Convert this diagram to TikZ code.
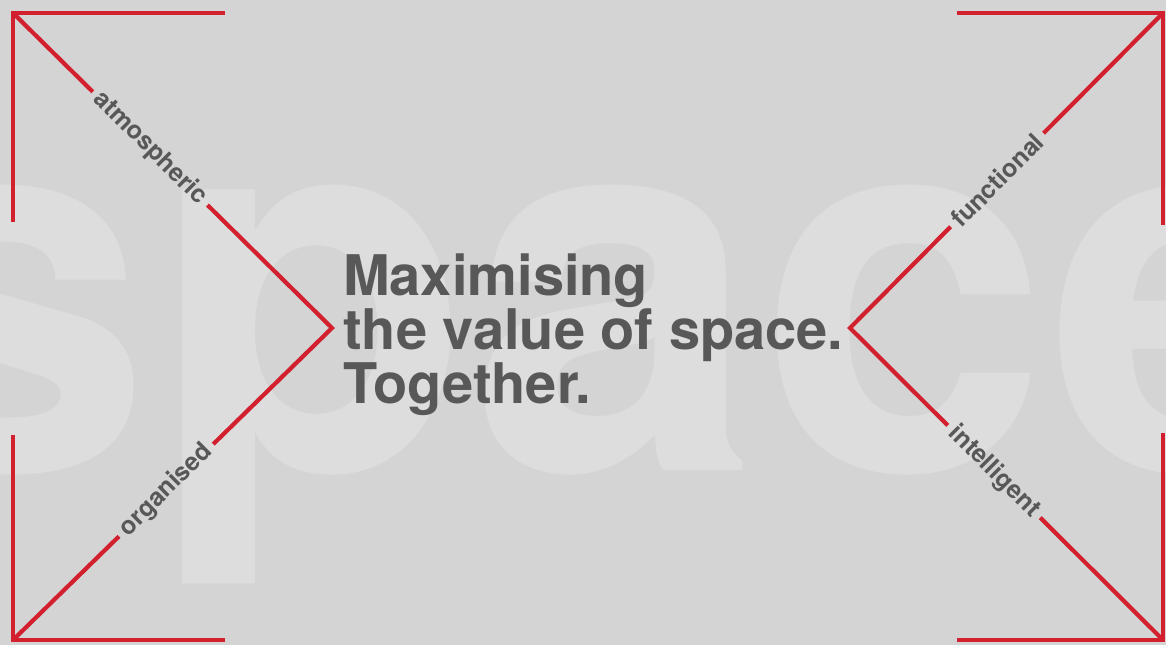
\documentclass[tikz,border=0pt]{standalone}
\usepackage{fontspec}
\setmainfont{TeX Gyre Heros}
\usetikzlibrary{calc}
\definecolor{bgGrey}{HTML}{D4D4D4}
\definecolor{ghostGrey}{HTML}{DDDDDD}
\definecolor{brandRed}{HTML}{D2202E}
\definecolor{textGrey}{HTML}{585858}
\tikzset{
  redline/.style={line width=4.2pt, color=brandRed, line join=miter},
  tag/.style={font=\fontsize{25}{25}\selectfont\bfseries, text=textGrey, inner xsep=6pt, inner ysep=0pt},
}

\begin{document}
\begin{tikzpicture}[x=1pt, y=-1pt]
  %%%%% START %%%%%

  \fill[bgGrey] (0,0) rectangle (1166,645);
  \useasboundingbox (0,0) rectangle (1166,645);

  \node[anchor=base west, inner sep=0pt, text=ghostGrey, font=\fontsize{520}{520}\selectfont\bfseries] (ghost) at (-137,470) {space};

  \coordinate (tl) at (13,13);
  \coordinate (tr) at (1163,13);
  \coordinate (bl) at (13,640);
  \coordinate (br) at (1163,640);
  \coordinate (lapex) at (332,328);
  \coordinate (rapex) at (850,328);

  \coordinate (tlh) at (225,13);
  \coordinate (tlv) at (13,222);
  \coordinate (trh) at (957,13);
  \coordinate (trv) at (1163,225);
  \coordinate (blh) at (225,640);
  \coordinate (blv) at (13,435);
  \coordinate (brh) at (957,640);
  \coordinate (brv) at (1163,433);

  \node[tag, rotate=-45] (atmos) at ($(tl)!0.43!(lapex)$) {atmospheric};
  \node[tag, rotate=45] (organ) at ($(bl)!0.48!(lapex)$) {organised};
  \node[tag, rotate=45] (funct) at ($(tr)!0.53!(rapex)$) {functional};
  \node[tag, rotate=-45] (intel) at ($(br)!0.54!(rapex)$) {intelligent};

  \node[anchor=north west, align=left, inner sep=0pt, text=textGrey, font=\fontsize{56}{48}\selectfont\bfseries] (slogan) at (343,254) {Maximising\\the value of space.\\Together.};

  % corners
  \draw[redline] (tlh) -- (tl) -- (tlv);
  \draw[redline] (trh) -- (tr) -- (trv);
  \draw[redline] (blh) -- (bl) -- (blv);
  \draw[redline] (brh) -- (br) -- (brv);

  % diagonals
  \draw[redline] (tl) -- (atmos);
  \draw[redline] (atmos) -- (lapex) -- (organ);
  \draw[redline] (organ) -- (bl);
  \draw[redline] (tr) -- (funct);
  \draw[redline] (funct) -- (rapex) -- (intel);
  \draw[redline] (intel) -- (br);

  %%%%% END %%%%%
\end{tikzpicture}
\end{document}
